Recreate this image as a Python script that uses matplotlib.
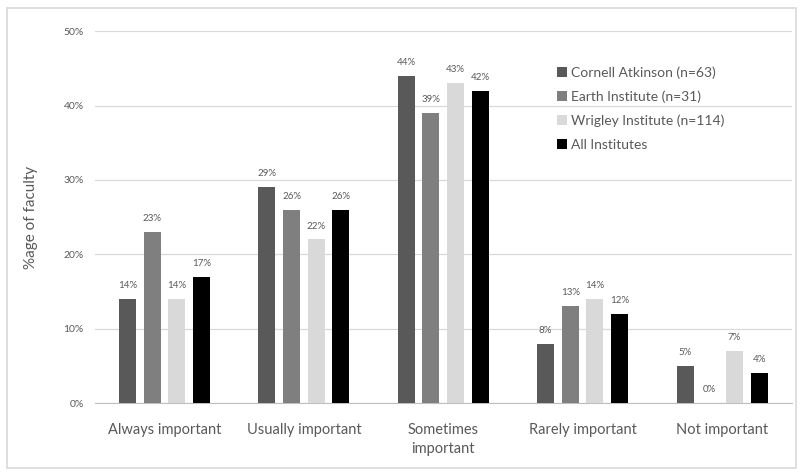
import matplotlib
matplotlib.use("Agg")
from matplotlib import pyplot as plt
from matplotlib.patches import Rectangle
import numpy as np

plt.rcParams['font.family'] = ['Lato', 'DejaVu Sans']

categories = ['Always important', 'Usually important', 'Sometimes\nimportant',
              'Rarely important', 'Not important']
series_names = ['Cornell Atkinson (n=63)', 'Earth Institute (n=31)',
                'Wrigley Institute (n=114)', 'All Institutes']
cornell = [14, 29, 44, 8, 5]
earth = [23, 26, 39, 13, 0]
wrigley = [14, 22, 43, 14, 7]
all_inst = [17, 26, 42, 12, 4]
colors = ['#595959', '#7f7f7f', '#d9d9d9', '#000000']

series = [cornell, earth, wrigley, all_inst]
txt = '#595959'

fig = plt.figure(figsize=(8.03, 4.72), dpi=100)
ax = fig.add_axes([0.118, 0.146, 0.868, 0.788])

# light frame round the whole chart
fig.patches.append(Rectangle((7 / 803, 4 / 472), 789 / 803, 460 / 472,
                             transform=fig.transFigure, fill=False,
                             edgecolor='#d9d9d9', linewidth=1.2))

x = np.arange(len(categories))
width = 0.122
step = 0.177
for i, (vals, name, c) in enumerate(zip(series, series_names, colors)):
    pos = x + (i - 1.5) * step
    ax.bar(pos, vals, width, color=c, label=name, zorder=3)
    for p, v in zip(pos, vals):
        ax.text(p, v + 1.2, f'{v}%', ha='center', va='bottom',
                fontsize=7, color=txt)

ax.set_ylim(0, 50)
ax.set_xlim(-0.5, 4.5)
ax.set_yticks(range(0, 51, 10))
ax.set_yticklabels([f'{t}%' for t in range(0, 51, 10)], fontsize=7.5, color=txt)
ax.set_xticks(x)
ax.set_xticklabels(categories, fontsize=10.5, color=txt, linespacing=1.5)
ax.tick_params(axis='y', length=0, pad=8)
ax.tick_params(axis='x', length=0, pad=14)
ax.grid(axis='y', color='#d9d9d9', linewidth=0.9, zorder=0)
for s in ['top', 'right', 'left']:
    ax.spines[s].set_visible(False)
ax.spines['bottom'].set_color('#bfbfbf')
ax.set_ylabel('%age of faculty', fontsize=11, color=txt, labelpad=18)

ax.legend(loc='upper left', bbox_to_anchor=(0.645, 0.94), frameon=False,
          fontsize=10, labelcolor=txt, handlelength=0.7, handleheight=0.7,
          handletextpad=0.3, labelspacing=0.85)

plt.savefig('out.png', dpi=100)
